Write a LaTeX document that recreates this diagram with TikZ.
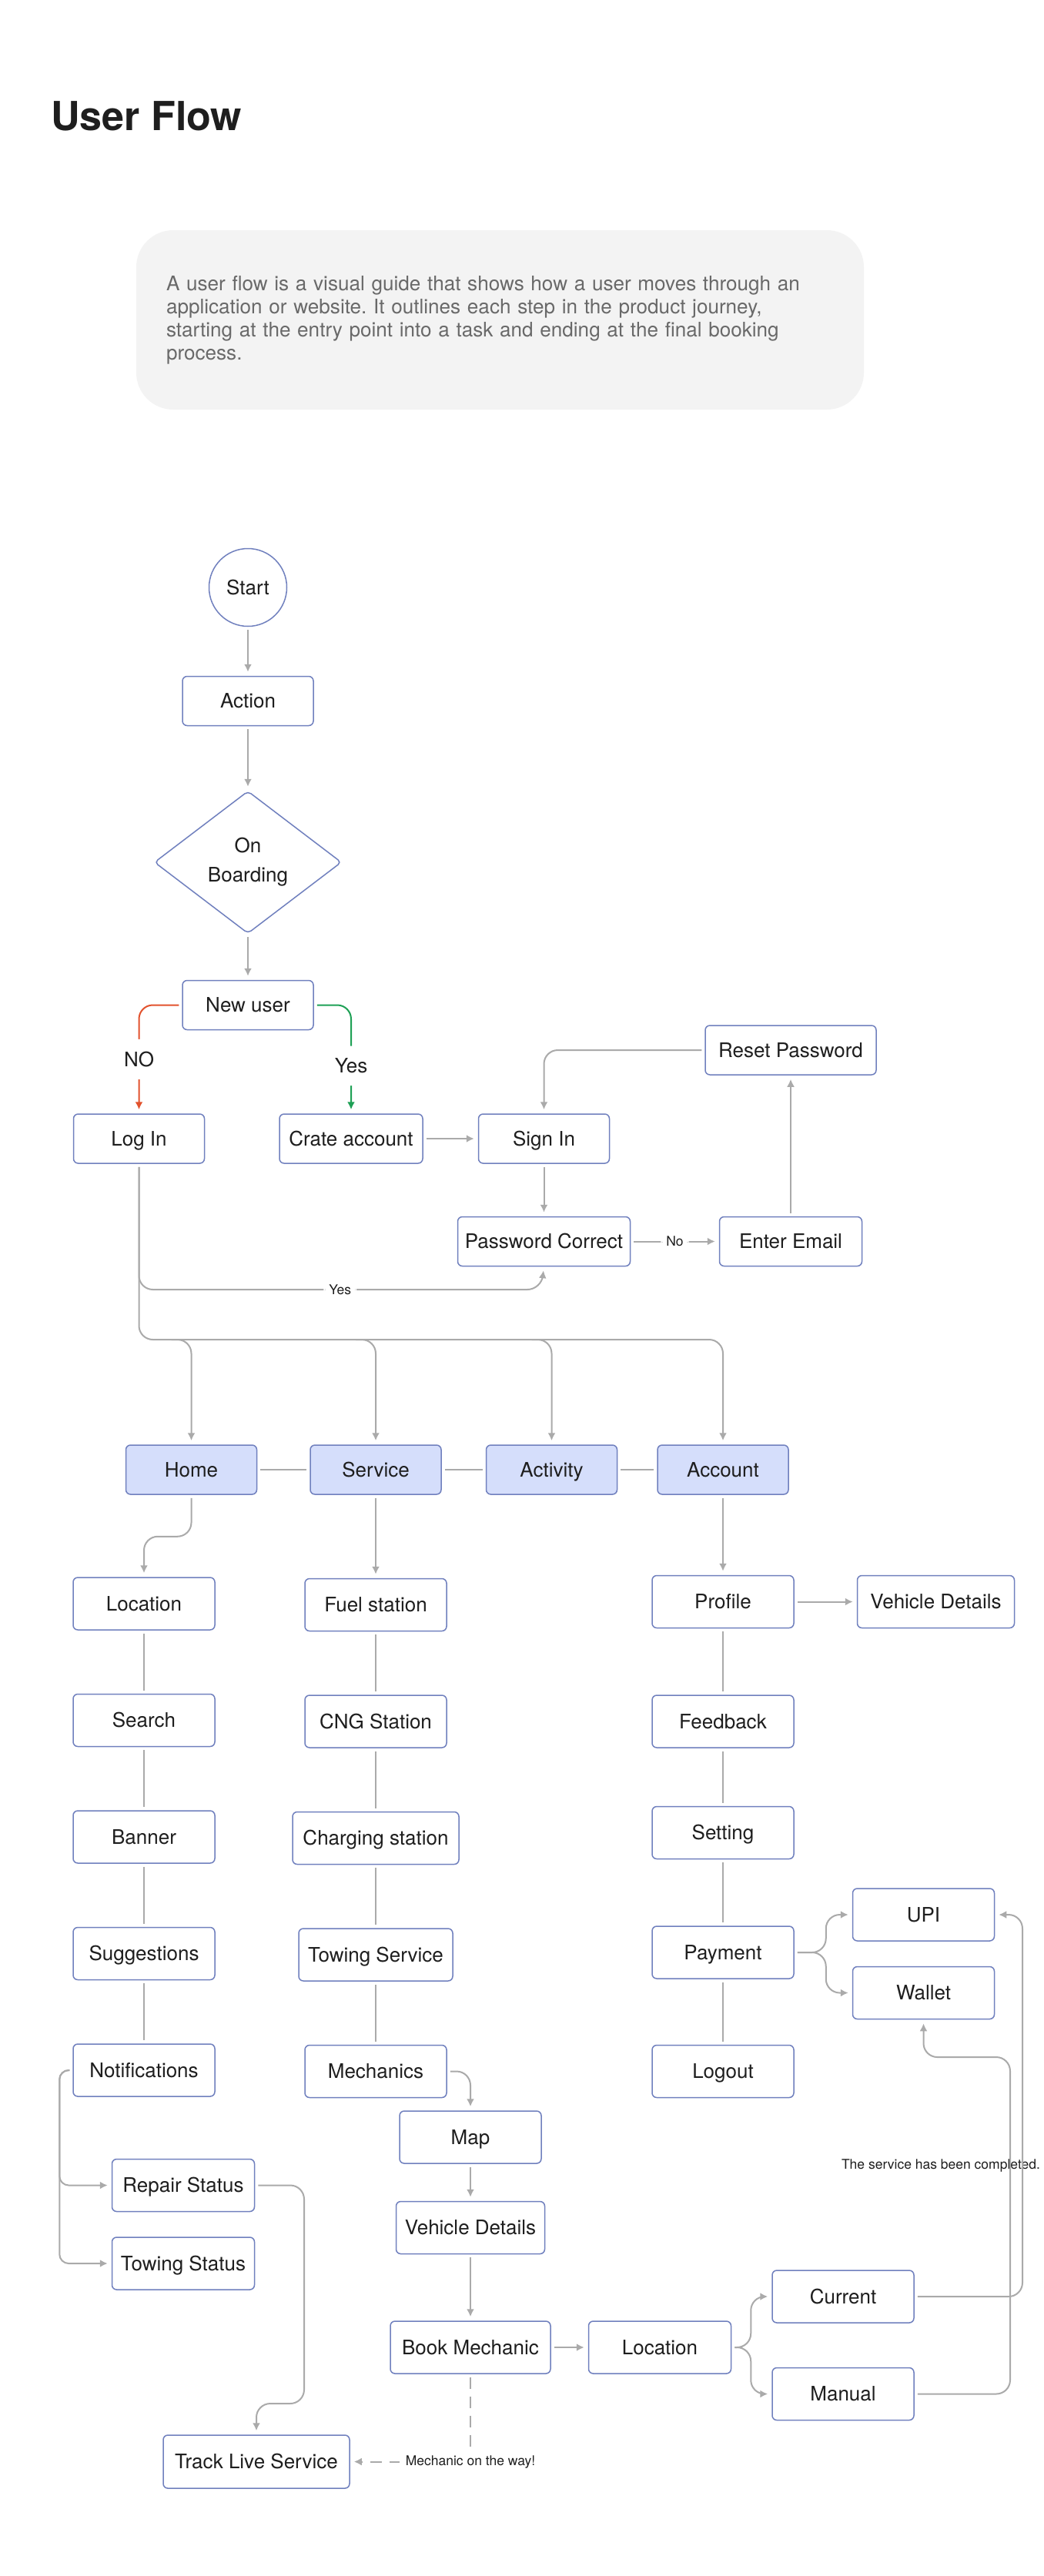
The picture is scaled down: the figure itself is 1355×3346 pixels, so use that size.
\documentclass[tikz,border=0pt]{standalone}
\usepackage{fontspec}
\setmainfont{TeX Gyre Heros}
\usepackage{tikz}
\usetikzlibrary{positioning,calc,shapes.geometric,arrows.meta}

\definecolor{ink}{RGB}{30,30,30}
\definecolor{bxline}{RGB}{112,128,190}
\definecolor{tabfill}{RGB}{213,222,251}
\definecolor{flowgray}{RGB}{170,170,170}
\definecolor{descgray}{RGB}{243,243,243}
\definecolor{desctext}{RGB}{105,105,105}
\definecolor{noRed}{RGB}{226,82,45}
\definecolor{yesGreen}{RGB}{30,160,85}

\newcommand{\boxfnt}{\fontsize{26}{31}\selectfont}
\newcommand{\smallfnt}{\fontsize{17.5}{21}\selectfont}
\newcommand{\ttlfnt}{\fontsize{52}{60}\selectfont\bfseries}
\frenchspacing

\begin{document}
\begin{tikzpicture}[x=1pt, y=-1pt, node distance=82pt, >={Latex[length=10pt,width=10pt]},
  box/.style={draw=bxline, line width=1.5pt, rounded corners=6pt, fill=white, text=ink, font=\boxfnt, minimum width=170pt, minimum height=64pt, inner xsep=4pt, text height=24pt, text depth=5.3pt},
  lbox/.style={box, minimum width=184pt, minimum height=68pt},
  tab/.style={box, fill=tabfill},
  dmnd/.style={diamond, draw=bxline, line width=1.5pt, rounded corners=5pt, minimum width=243pt, minimum height=185pt, inner sep=0pt, align=center, text=ink, font=\fontsize{26}{38}\selectfont},
  flow/.style={draw=flowgray, line width=2pt, ->, rounded corners=18pt, shorten >=5pt, shorten <=4pt},
  vline/.style={draw=flowgray, line width=2pt, shorten >=4pt, shorten <=4pt},
  lbl/.style={fill=white, text=ink, font=\boxfnt, inner xsep=4pt, inner ysep=16pt},
  slbl/.style={fill=white, text=ink, font=\smallfnt, inner xsep=7pt, inner ysep=4pt},
  dashy/.style={flow, rounded corners=0pt, dash pattern=on 15pt off 10pt}]

  \path[use as bounding box, fill=white] (0,0) rectangle (1355,3346);

  \node  [font=\ttlfnt, text=ink, anchor=base west, inner sep=0pt] (ttl) at (66,169) {User Flow};
  \node  [fill=descgray, rounded corners=48pt, minimum width=945pt, minimum height=233pt, text width=867pt, inner xsep=39pt, align=left, text=desctext, font=\fontsize{26.1}{30}\selectfont] (dsc) at (649.5,415.5)
      {A user flow is a visual guide that shows how a user moves through an\\
       application or website. It outlines each step in the product journey,\\
       starting at the entry point into a task and ending at the final booking\\
       process.};

  \node  [circle, draw=bxline, line width=1.5pt, minimum size=101pt, inner sep=0pt, text=ink, font=\boxfnt] (strt) at (322,763) {Start};
  \node  [box, below=63.5pt of strt] (actn) {Action};
  \node  [dmnd, below=83.5pt of actn] (onb) {On\\Boarding};
  \node  [box, below=59.5pt of onb] (nusr) {New user};

  \node  [box] (lgin) at (180.5,1479) {Log In};
  \node  [box, minimum width=186pt, right=96pt of lgin] (crt) {Crate account};
  \node  [box, right=71pt of crt] (sgin) {Sign In};
  \node  [box, minimum width=224pt, below=68pt of sgin] (pwc) {Password Correct};
  \node  [box, minimum width=185pt, right=114.5pt of pwc] (eml) {Enter Email};
  \node  [box, minimum width=222pt, above=183pt of eml] (rst) {Reset Password};

  \node  [tab] (hme) at (248.5,1909) {Home};
  \node  [tab, right=68pt of hme] (srv) {Service};
  \node  [tab, right=57pt of srv] (actv) {Activity};
  \node  [tab, right=51pt of actv] (acct) {Account};

  \node  [lbox] (loc) at (187,2083) {Location};
  \node  [lbox, below=of loc] (srch) {Search};
  \node  [lbox, below=of srch] (bnr) {Banner};
  \node  [lbox, below=of bnr] (sgst) {Suggestions};
  \node  [lbox, below=of sgst] (ntf) {Notifications};
  \node  [lbox, minimum width=185pt] (rpr) at (238,2838.5) {Repair Status};
  \node  [lbox, minimum width=185pt, below=32pt of rpr] (tst) {Towing Status};
  \node  [lbox, minimum width=242pt, minimum height=69pt] (trk) at (333,3197.5) {Track Live Service};

  \node  [lbox, below=108pt of srv] (fuel) {Fuel station};
  \node  [lbox, below=of fuel] (cng) {CNG Station};
  \node  [lbox, minimum width=216pt, below=of cng] (chg) {Charging station};
  \node  [lbox, minimum width=200pt, below=of chg] (tow) {Towing Service};
  \node  [lbox, below=of tow] (mech) {Mechanics};
  \node  [lbox] (map) at (611,2776) {Map};
  \node  [lbox, minimum width=193pt, below=48pt of map] (vdt2) {Vehicle Details};
  \node  [lbox, minimum width=208pt, below=86pt of vdt2] (bkm) {Book Mechanic};
  \node  [lbox, minimum width=185pt, right=48pt of bkm] (loc2) {Location};
  \node  [lbox] (cur) at (1095,2983) {Current};
  \node  [lbox, below=57pt of cur] (man) {Manual};

  \node  [lbox, below=104pt of acct] (prof) {Profile};
  \node  [lbox, minimum width=204pt, right=81pt of prof] (vdt) {Vehicle Details};
  \node  [lbox, below=86pt of prof] (fdbk) {Feedback};
  \node  [lbox, below=75pt of fdbk] (stng) {Setting};
  \node  [lbox, below=86pt of stng] (pay) {Payment};
  \node  [lbox, below=85pt of pay] (lgout) {Logout};
  \node  [lbox] (upi) at (1199.5,2487) {UPI};
  \node  [lbox, below=32pt of upi] (wal) {Wallet};

  \node  [font=\smallfnt, text=ink] (done) at (1222,2813) {The service has been completed.};

  \coordinate (bus) at (600,1740);
  \coordinate (ybend) at (703,1675);
  \coordinate (trn1) at (395,3122);
  \coordinate (trn2) at (1312,2672);
  \coordinate (trn3) at (1328,2700);

  \draw[flow] (strt) -- (actn);
  \draw[flow] (actn) -- (onb);
  \draw[flow] (onb) -- (nusr);
  \draw[flow, draw=noRed] (nusr.west) -| node[lbl, pos=0.75] {NO} (lgin.north);
  \draw[flow, draw=yesGreen] (nusr.east) -| node[lbl, pos=0.78] {Yes} (crt.north);
  \draw[flow] (crt) -- (sgin);
  \draw[flow] (rst.west) -| (sgin.north);
  \draw[flow] (sgin) -- (pwc);
  \draw[flow] (pwc) -- node[slbl] {No} (eml);
  \draw[flow] (eml) -- (rst);
  \draw[flow] (lgin.south) |- node[slbl, pos=0.75] {Yes} (ybend) -- (pwc.south);

  \draw[flow] (lgin.south) |- (bus) -| (acct.north);
  \foreach \tb in {hme,srv,actv}
    \draw[flow] (\tb.north |- bus) ++(-30,0) -| (\tb.north);
  \draw[vline, line width=2.5pt] (hme) -- (srv);
  \draw[vline, line width=2.5pt] (srv) -- (actv);
  \draw[vline, line width=2.5pt] (actv) -- (acct);

  \draw[flow] (hme.south) -- ++(0,54) -| (loc.north);
  \draw[flow] (srv) -- (fuel);
  \draw[flow] (acct) -- (prof);
  \draw[flow] (prof) -- (vdt);
  \draw[vline] (loc) -- (srch);
  \draw[vline] (srch) -- (bnr);
  \draw[vline] (bnr) -- (sgst);
  \draw[vline] (sgst) -- (ntf);
  \draw[vline] (fuel) -- (cng);
  \draw[vline] (cng) -- (chg);
  \draw[vline] (chg) -- (tow);
  \draw[vline] (tow) -- (mech);
  \draw[vline] (prof) -- (fdbk);
  \draw[vline] (fdbk) -- (stng);
  \draw[vline] (stng) -- (pay);
  \draw[vline] (pay) -- (lgout);

  \draw[flow] (pay.east) -- ++(41,0) |- (upi.west);
  \draw[flow] (pay.east) -- ++(41,0) |- (wal.west);

  \draw[flow, rounded corners=12pt] (ntf.west) -- ++(-17,0) |- (rpr.west);
  \draw[flow, rounded corners=12pt] (ntf.west) -- ++(-17,0) |- (tst.west);
  \draw[flow] (rpr.east) -| (trn1) -| (trk.north);

  \draw[flow] (mech.east) -| (map.north);
  \draw[flow] (map) -- (vdt2);
  \draw[flow] (vdt2) -- (bkm);
  \draw[flow] (bkm) -- (loc2);
  \draw[flow] (loc2.east) -- ++(25,0) |- (cur.west);
  \draw[flow] (loc2.east) -- ++(25,0) |- (man.west);
  \draw[flow] (cur.east) -| (trn3) |- (upi.east);
  \draw[flow] (man.east) -| (trn2) -| (wal.south);
  \draw[dashy] (bkm.south) |- node[slbl, pos=0.5, inner xsep=8pt, inner ysep=10pt] {Mechanic on the way!} (trk.east);
\end{tikzpicture}
\end{document}
